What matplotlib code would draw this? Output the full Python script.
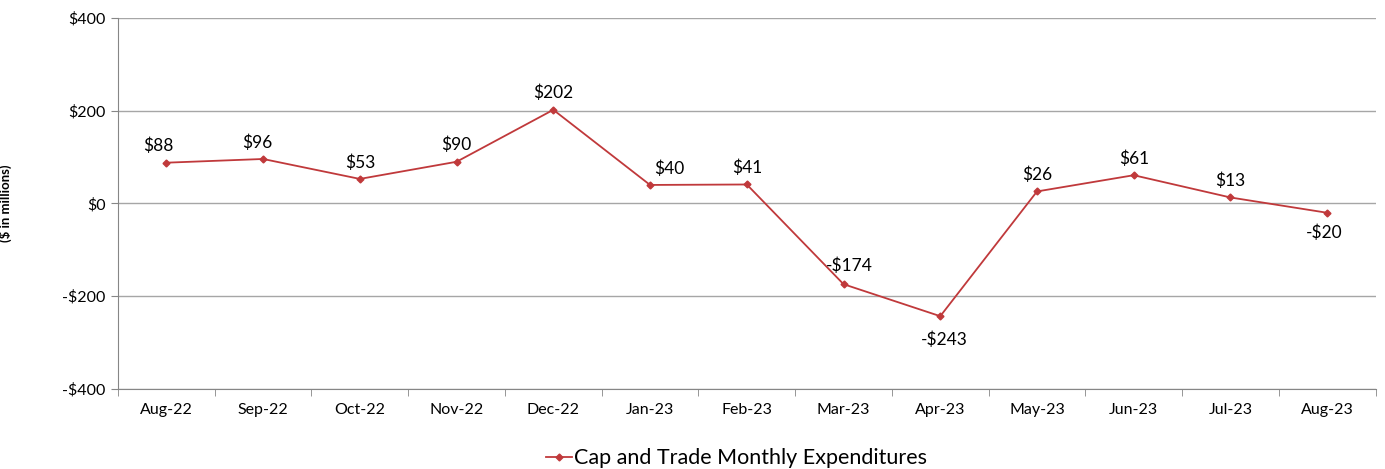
import matplotlib.pyplot as plt
from matplotlib.ticker import FuncFormatter, FixedLocator

# ─── Data ─────────────────────────────────────────────────────────────
months = ["Aug-22", "Sep-22", "Oct-22", "Nov-22", "Dec-22", "Jan-23", "Feb-23",
          "Mar-23", "Apr-23", "May-23", "Jun-23", "Jul-23", "Aug-23"]
expenditures = [88, 96, 53, 90, 202, 40, 41, -174, -243, 26, 61, 13, -20]

LINE_COLOR = "#C0393B"

plt.rcParams["font.family"] = ["Lato", "DejaVu Sans"]

fig = plt.figure(figsize=(13.85, 4.69), dpi=100)
ax = fig.add_axes([0.0852, 0.1706, 0.908, 0.791])

x = range(len(months))
ax.plot(x, expenditures, color=LINE_COLOR, linewidth=1.3, marker="D",
        markersize=3.5, label="Cap and Trade Monthly Expenditures")

# label offsets (points) to mimic the hand-placed labels
offsets = [(-6, 6), (-4, 6), (0, 6), (0, 6), (0, 6), (14, 6), (0, 6),
           (4, 7), (3, -23), (0, 6), (0, 6), (0, 6), (-2, -20)]
for i, v in enumerate(expenditures):
    txt = f"${v}" if v >= 0 else f"-${abs(v)}"
    ax.annotate(txt, (i, v), xytext=offsets[i], textcoords="offset points",
                ha="center", va="bottom", fontsize=12.5, color="#000000")

ax.set_xlim(-0.5, len(months) - 0.5)
ax.set_ylim(-400, 400)
ax.set_yticks([-400, -200, 0, 200, 400])
ax.yaxis.set_major_formatter(FuncFormatter(lambda v, p: f"${v:.0f}" if v >= 0 else f"-${abs(v):.0f}"))
ax.set_xticks(list(x))
ax.set_xticklabels(months)
ax.xaxis.set_minor_locator(FixedLocator([i - 0.5 for i in range(len(months) + 1)]))
ax.tick_params(axis="x", which="major", length=0, pad=10, labelsize=11.5)
ax.tick_params(axis="x", which="minor", length=5, color="#868686")
ax.tick_params(axis="y", length=5, color="#868686", labelsize=11.5, pad=4)

ax.grid(axis="y", color="#a6a6a6", linewidth=1)
ax.set_axisbelow(True)
for side in ["top", "right"]:
    ax.spines[side].set_visible(False)
ax.spines["left"].set_color("#868686")
ax.spines["bottom"].set_color("#868686")

ax.set_ylabel("($ in millions)", fontsize=9.5, fontweight="bold")
ax.yaxis.set_label_coords(-0.084, 0.5)

fig.legend(loc="lower center", bbox_to_anchor=(0.532, -0.04), frameon=False,
           fontsize=15.5, handlelength=1.2, handletextpad=0.1, markerscale=1.0)

fig.savefig("out.png", dpi=100)
